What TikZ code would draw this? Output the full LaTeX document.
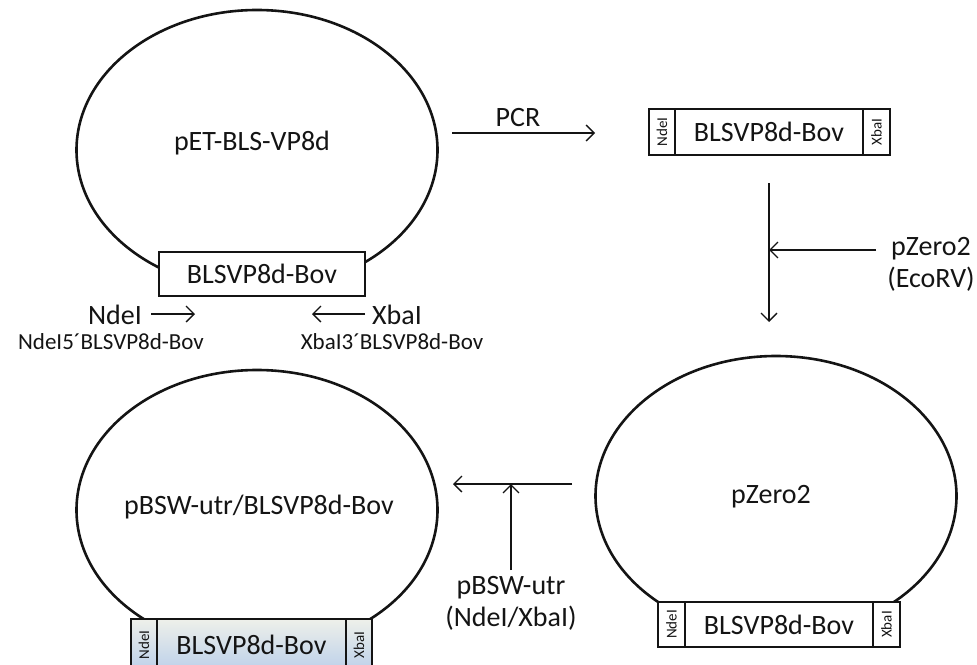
\documentclass[tikz,border=0pt]{standalone}
\usepackage{fontspec}
\setmainfont{Carlito}
\usetikzlibrary{shapes.geometric,arrows.meta}
\definecolor{ink}{RGB}{20,20,20}
\definecolor{shtop}{RGB}{238,240,234}
\definecolor{shbot}{RGB}{188,208,234}
\begin{document}
\begin{tikzpicture}[x=1pt,y=-1pt,
  plasmid/.style={draw=ink, ellipse, line width=2.6pt, minimum width=361pt, minimum height=280pt, inner sep=0pt},
  big/.style={font=\fontsize{28}{32}\selectfont, inner sep=0pt, text=ink},
  small/.style={font=\fontsize{23}{27}\selectfont, inner sep=0pt, text=ink},
  cell/.style={draw=ink, line width=1.4pt, fill=white, inner sep=0pt, text=ink, font=\fontsize{15}{16}\selectfont},
  tinted/.style={top color=shtop, bottom color=shbot},
  arr/.style={draw=ink, line width=1.3pt, -{Straight Barb[length=8pt,width=16pt,line width=1.3pt]}},
]
\useasboundingbox (0,0) rectangle (977,664);
\clip (0,0) rectangle (977,664);

% plasmids
\node[plasmid] (p1) at (257,150) {};
\node[plasmid] (p2) at (257,510) {};
\node[plasmid] (p3) at (776,496) {};
\node[big] (p1t) at (252,143) {pET-BLS-VP8d};
\node[big] (p2t) at (259,507) {pBSW-utr/BLSVP8d-Bov};
\node[big] (p3t) at (771,497) {pZero2};

% insert in pET
\node[cell, big, minimum width=206pt, minimum height=44pt] (b0) at (262,274) {BLSVP8d-Bov};

% PCR product
\node[cell, minimum width=26pt, minimum height=46pt] (b1n) at (662,132) {\rotatebox{90}{NdeI}};
\node[cell, big, minimum width=188pt, minimum height=46pt] (b1m) at (769,132) {BLSVP8d-Bov};
\node[cell, minimum width=27pt, minimum height=46pt] (b1x) at (876.5,132) {\rotatebox{90}{XbaI}};

% pZero2 insert
\node[cell, minimum width=27pt, minimum height=45pt] (b3n) at (671.5,624.5) {\rotatebox{90}{NdeI}};
\node[cell, big, minimum width=188pt, minimum height=45pt] (b3m) at (779,624.5) {BLSVP8d-Bov};
\node[cell, minimum width=27pt, minimum height=45pt] (b3x) at (886.5,624.5) {\rotatebox{90}{XbaI}};

% pBSW insert
\node[cell, tinted, minimum width=26pt, minimum height=52pt] (b2n) at (144,645) {\rotatebox{90}{NdeI}};
\node[cell, tinted, big, minimum width=189pt, minimum height=52pt] (b2m) at (251.5,645) {BLSVP8d-Bov};
\node[cell, tinted, minimum width=26pt, minimum height=52pt] (b2x) at (359,645) {\rotatebox{90}{XbaI}};

% primers
\node[big] (nde) at (115,315) {NdeI};
\node[small] (ndep) at (111,342) {NdeI5´BLSVP8d-Bov};
\coordinate (ndeA) at (151,314);
\coordinate (ndeB) at (195,314);
\draw[arr] (ndeA) -- (ndeB);
\node[big] (xba) at (397,315) {XbaI};
\node[small] (xbap) at (392,342) {XbaI3´BLSVP8d-Bov};
\coordinate (xbaA) at (365,314);
\coordinate (xbaB) at (312,314);
\draw[arr] (xbaA) -- (xbaB);

% PCR step
\coordinate (pcrA) at (452,133);
\coordinate (pcrB) at (595,133);
\draw[arr] (pcrA) -- (pcrB);
\node[big] (pcr) at (518,118) {PCR};

% pZero2 cloning
\coordinate (vA) at (769,183);
\coordinate (vB) at (769,322);
\coordinate (vJ) at (769,250);
\coordinate (hA) at (876,250);
\draw[arr] (vA) -- (vB);
\draw[arr] (hA) -- (vJ);
\node[big, align=center] (zlab) at (931,264) {pZero2\\(EcoRV)};

% subcloning into pBSW
\coordinate (sA) at (572,484);
\coordinate (sB) at (453,484);
\coordinate (sJ) at (511,484);
\coordinate (uA) at (511,570);
\draw[arr] (sA) -- (sB);
\draw[arr] (uA) -- (sJ);
\node[big, align=center] (ulab) at (511,603.5) {pBSW-utr\\(NdeI/XbaI)};
\end{tikzpicture}
\end{document}
